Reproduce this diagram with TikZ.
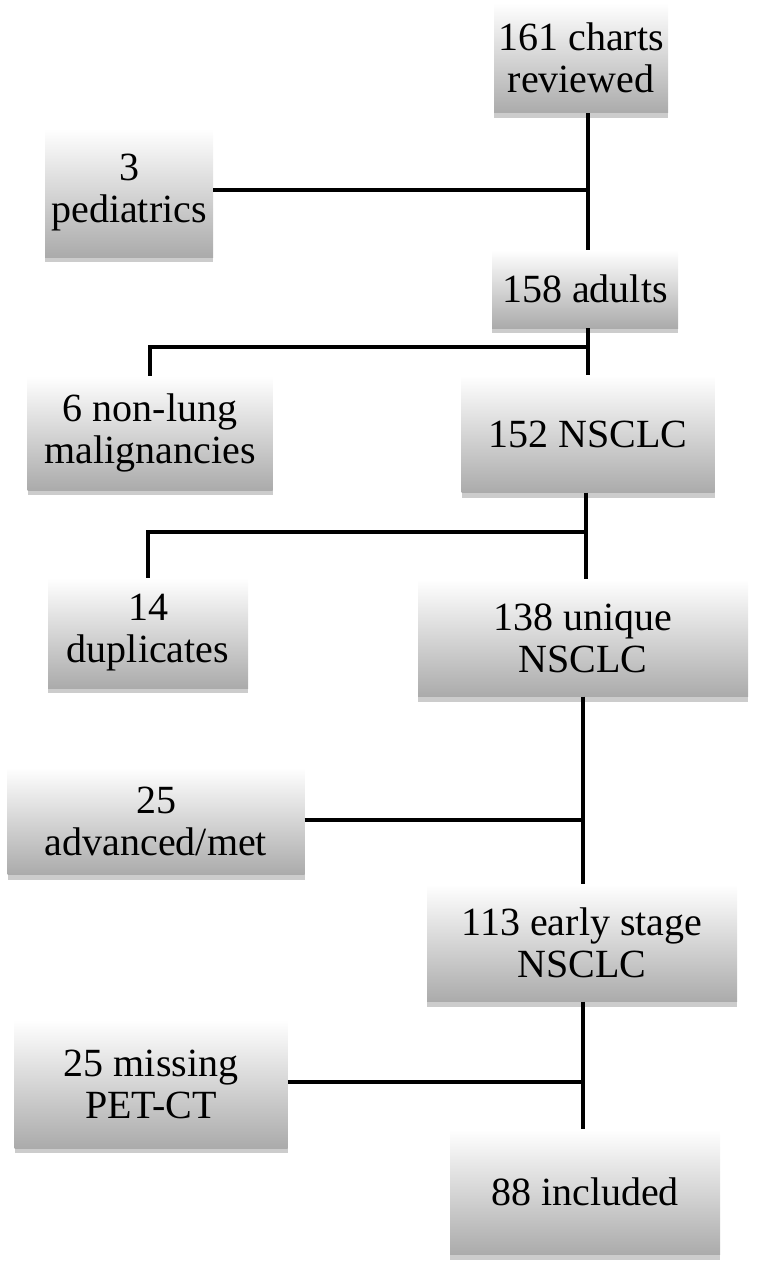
\documentclass[tikz,border=0pt]{standalone}
\usepackage{fontspec}
\setmainfont{Liberation Serif}
\usetikzlibrary{shadows}

\tikzset{
  stage/.style={rectangle, inner sep=0pt, align=center,
    top color=white, bottom color=black!33,
    drop shadow={shadow xshift=0pt, shadow yshift=-5pt, opacity=0.4},
    font=\fontsize{40}{42}\selectfont},
  link/.style={line width=3.4pt}
}

\begin{document}
\begin{tikzpicture}[x=1pt, y=-1pt]
      \useasboundingbox (0,0) rectangle (757,1271);
      \node[stage, minimum width=174pt, minimum height=110pt] (charts) at (581,58) {161 charts\\reviewed};
      \node[stage, minimum width=168pt, minimum height=128pt] (peds) at (129,193) {3\\pediatrics};
      \node[stage, minimum width=186pt, minimum height=78pt] (adults) at (585,289) {158 adults};
      \node[stage, minimum width=245pt, minimum height=114pt] (nonlung) at (150,433) {6 non-lung\\malignancies};
      \node[stage, minimum width=253pt, minimum height=117pt] (nsclc) at (588,434) {152 NSCLC};
      \node[stage, minimum width=200pt, minimum height=110pt] (dups) at (148,633) {14\\duplicates};
      \node[stage, minimum width=330pt, minimum height=117pt] (unique) at (583,638) {138 unique\\NSCLC};
      \node[stage, minimum width=297pt, minimum height=107pt] (advanced) at (156,821) {25\\advanced/met};
      \node[stage, minimum width=310pt, minimum height=117pt] (early) at (582,943) {113 early stage\\NSCLC};
      \node[stage, minimum width=273pt, minimum height=128pt] (missing) at (151,1084) {25 missing\\PET-CT};
      \node[stage, minimum width=270pt, minimum height=125pt] (included) at (585,1192) {88 included};
      % junctions on the main line
      \coordinate (j1) at (588,190);
      \coordinate (j2) at (588,347);
      \coordinate (j3) at (586,532);
      \coordinate (j4) at (583,820);
      \coordinate (j5) at (583,1082);
      \begin{scope}[link]
        \draw (charts.south -| j1) -- (adults.north -| j1);
        \draw (peds.east |- j1) -- (j1);
        \draw (adults.south -| j2) -- (nsclc.north -| j2);
        \draw (j2) -| (nonlung.north);
        \draw (nsclc.south -| j3) -- (unique.north -| j3);
        \draw (j3) -| (dups.north);
        \draw (unique.south -| j4) -- (early.north -| j4);
        \draw (advanced.east |- j4) -- (j4);
        \draw (early.south -| j5) -- (included.north -| j5);
        \draw (missing.east |- j5) -- (j5);
      \end{scope}
    \end{tikzpicture}
\end{document}
